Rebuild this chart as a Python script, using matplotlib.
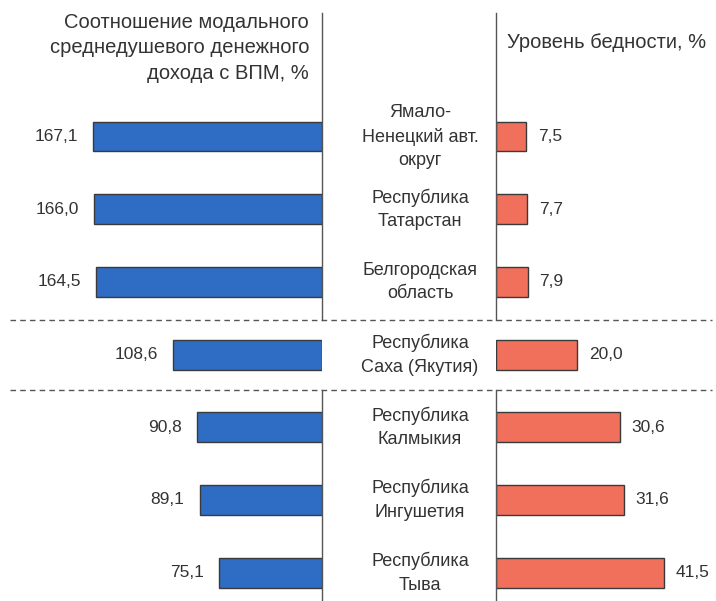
import matplotlib.pyplot as plt

plt.rcParams['font.family'] = ['Liberation Sans', 'DejaVu Sans']

regions = ['Ямало-\nНенецкий авт.\nокруг', 'Республика\nТатарстан', 'Белгородская\nобласть',
           'Республика\nСаха (Якутия)', 'Республика\nКалмыкия', 'Республика\nИнгушетия',
           'Республика\nТыва']
income_ratio = [167.1, 166.0, 164.5, 108.6, 90.8, 89.1, 75.1]
poverty = [7.5, 7.7, 7.9, 20.0, 30.6, 31.6, 41.5]
income_labels = ['167,1', '166,0', '164,5', '108,6', '90,8', '89,1', '75,1']
poverty_labels = ['7,5', '7,7', '7,9', '20,0', '30,6', '31,6', '41,5']
left_title = 'Соотношение модального\nсреднедушевого денежного\nдохода с ВПМ, %'
right_title = 'Уровень бедности, %'

W, H = 716, 601
fig = plt.figure(figsize=(W / 100, H / 100), dpi=100)

blue = '#2f6cc4'
red = '#f0705c'
edge = '#3a3a3a'
txt = '#333333'

# pixel geometry
left_zero = 321.5
right_zero = 495.5
px_left = 1.368   # px per unit
px_right = 4.06
row0, row_step = 136.5, 72.7

ymin = (H - row0) / row_step
ymax = -row0 / row_step
ys = list(range(len(regions)))


def py(p):
    return (p - row0) / row_step


axl = fig.add_axes([0, 0, left_zero / W, 1])
axr = fig.add_axes([right_zero / W, 0, 1 - right_zero / W, 1])
axl.set_xlim(left_zero / px_left, 0)
axr.set_xlim(0, (W - right_zero) / px_right)
for ax in (axl, axr):
    ax.set_ylim(ymin, ymax)
    ax.axis('off')

axl.barh(ys, income_ratio, height=0.41, color=blue, edgecolor=edge, linewidth=1.0)
axr.barh(ys, poverty, height=0.41, color=red, edgecolor=edge, linewidth=1.0)

for y, v, lab in zip(ys, income_ratio, income_labels):
    axl.text(v + 15 / px_left, y, lab, ha='right', va='center', fontsize=12.5, color=txt)
for y, v, lab in zip(ys, poverty, poverty_labels):
    axr.text(v + 12 / px_right, y, lab, ha='left', va='center', fontsize=12.5, color=txt)

# axis lines, broken around the middle group
for ax in (axl, axr):
    ax.plot([0, 0], [py(13), py(320)], color='#555555', lw=1.0, clip_on=False)
    ax.plot([0, 0], [py(390), py(H)], color='#555555', lw=1.0, clip_on=False)

# center labels
for y, name in zip(ys, regions):
    fig.text(420 / W, 1 - (row0 + y * row_step) / H, name,
             ha='center', va='center', fontsize=13, color=txt, linespacing=1.5)

# titles
fig.text(309 / W, 1 - 13 / H, left_title, ha='right', va='top', fontsize=14.5,
         color=txt, linespacing=1.42)
fig.text(507 / W, 1 - 43 / H, right_title, ha='left', va='center', fontsize=14.5,
         color=txt)

# dashed separators
for yp in (320, 390):
    fig.add_artist(plt.Line2D([10 / W, 712 / W], [1 - yp / H, 1 - yp / H],
                              color='#555555', lw=1.0, ls=(0, (4, 3))))

plt.savefig('out.png', dpi=100)
